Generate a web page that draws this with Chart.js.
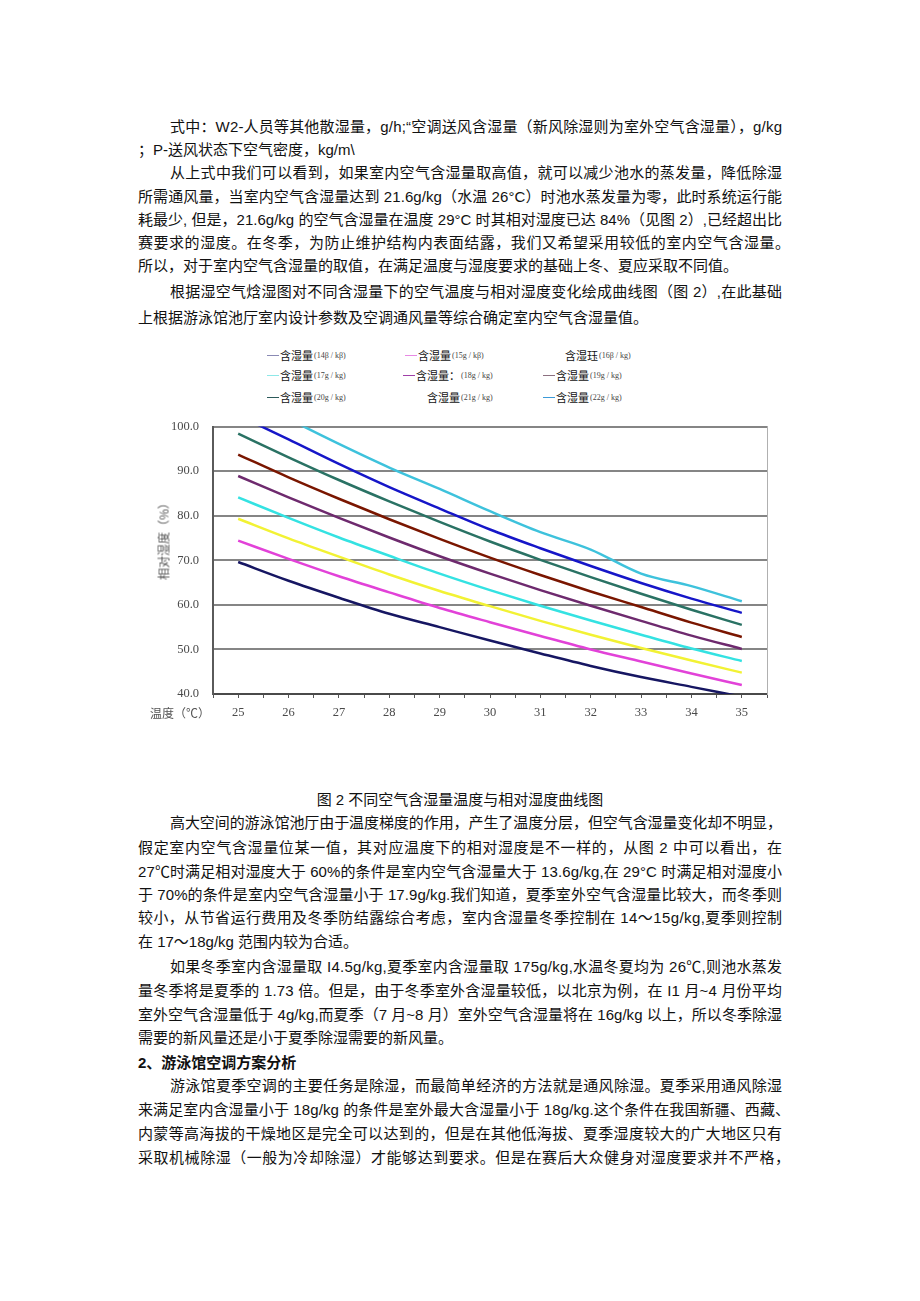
<!DOCTYPE html>
<html>
<head>
<meta charset="utf-8">
<script src="https://cdn.jsdelivr.net/npm/chart.js@4/dist/chart.umd.min.js"></script>
<style>
body{margin:0;background:#fff;}
#page{position:relative;width:920px;height:1301px;overflow:hidden;font-family:"Liberation Sans","Noto Sans CJK SC",sans-serif;font-size:15px;color:#111;}
.ln{position:absolute;left:138px;width:644px;line-height:20px;white-space:nowrap;}
.ln span.t{display:inline-block;}
.ind{left:170px;width:612px;}
.b{font-weight:bold;}
#chartBox{position:absolute;left:140px;top:405px;width:640px;height:320px;}
.lg{position:absolute;display:flex;align-items:center;height:14px;white-space:nowrap;color:#111;}
.lg .sw{display:inline-block;width:12px;height:0;border-top:1.5px solid;margin-right:1px;}
.lg .big{font-family:"Noto Sans CJK SC",sans-serif;font-size:11px;}
.lg .sm{font-family:"Liberation Serif","DejaVu Serif",serif;font-size:8px;color:#444;margin-left:1px;}
.ax{position:absolute;font-family:"Noto Sans CJK SC",sans-serif;font-size:12px;color:#555;white-space:nowrap;}
</style>
</head>
<body>
<div id="page">
  <div class="ln j ind" style="top:117px">式中：W2-人员等其他散湿量，g/h;“空调送风含湿量（新风除湿则为室外空气含湿量），g/kg</div>
  <div class="ln" style="top:140px">；P-送风状态下空气密度，kg/m\</div>
  <div class="ln j ind" style="top:163px">从上式中我们可以看到，如果室内空气含湿量取高值，就可以减少池水的蒸发量，降低除湿</div>
  <div class="ln j" style="top:187px">所需通风量，当室内空气含湿量达到 21.6g/kg（水温 26°C）时池水蒸发量为零，此时系统运行能</div>
  <div class="ln j" style="top:210px">耗最少, 但是，21.6g/kg 的空气含湿量在温度 29°C 时其相对湿度已达 84%（见图 2）,已经超出比</div>
  <div class="ln j" style="top:233px;width:652px">赛要求的湿度。在冬季，为防止维护结构内表面结露，我们又希望采用较低的室内空气含湿量。</div>
  <div class="ln" style="top:256px">所以，对于室内空气含湿量的取值，在满足温度与湿度要求的基础上冬、夏应采取不同值。</div>
  <div class="ln j ind" style="top:282px">根据湿空气焓湿图对不同含湿量下的空气温度与相对湿度变化绘成曲线图（图 2）,在此基础</div>
  <div class="ln" style="top:308px">上根据游泳馆池厅室内设计参数及空调通风量等综合确定室内空气含湿量值。</div>

  <div id="legend"></div>
  <div id="chartBox"><canvas id="c" width="640" height="320"></canvas></div>
  <div class="ax" style="left:150px;top:704px">温度（℃）</div>
  <div class="ax" style="left:120px;top:530px;width:86px;text-align:center;transform:rotate(-90deg);">相对湿度（%）</div>

  <div class="ln" style="top:790px;text-align:center">图 2 不同空气含湿量温度与相对湿度曲线图</div>
  <div class="ln j ind" style="top:813px">高大空间的游泳馆池厅由于温度梯度的作用，产生了温度分层，但空气含湿量变化却不明显，</div>
  <div class="ln j" style="top:838px">假定室内空气含湿量位某一值，其对应温度下的相对湿度是不一样的，从图 2 中可以看出，在</div>
  <div class="ln j" style="top:862px">27℃时满足相对湿度大于 60%的条件是室内空气含湿量大于 13.6g/kg,在 29°C 时满足相对湿度小</div>
  <div class="ln j" style="top:885px">于 70%的条件是室内空气含湿量小于 17.9g/kg.我们知道，夏季室外空气含湿量比较大，而冬季则</div>
  <div class="ln j" style="top:908px">较小，从节省运行费用及冬季防结露综合考虑，室内含湿量冬季控制在 14～15g/kg,夏季则控制</div>
  <div class="ln" style="top:932px">在 17～18g/kg 范围内较为合适。</div>
  <div class="ln j ind" style="top:957px">如果冬季室内含湿量取 I4.5g/kg,夏季室内含湿量取 175g/kg,水温冬夏均为 26℃,则池水蒸发</div>
  <div class="ln j" style="top:981px">量冬季将是夏季的 1.73 倍。但是，由于冬季室外含湿量较低，以北京为例，在 I1 月~4 月份平均</div>
  <div class="ln j" style="top:1005px">室外空气含湿量低于 4g/kg,而夏季（7 月~8 月）室外空气含湿量将在 16g/kg 以上，所以冬季除湿</div>
  <div class="ln" style="top:1028px">需要的新风量还是小于夏季除湿需要的新风量。</div>
  <div class="ln b" style="top:1053px">2、游泳馆空调方案分析</div>
  <div class="ln j ind" style="top:1076px">游泳馆夏季空调的主要任务是除湿，而最简单经济的方法就是通风除湿。夏季采用通风除湿</div>
  <div class="ln j" style="top:1100px;width:652px">来满足室内含湿量小于 18g/kg 的条件是室外最大含湿量小于 18g/kg.这个条件在我国新疆、西藏、</div>
  <div class="ln j" style="top:1124px">内蒙等高海拔的干燥地区是完全可以达到的，但是在其他低海拔、夏季湿度较大的广大地区只有</div>
  <div class="ln j" style="top:1148px;width:652px">采取机械除湿（一般为冷却除湿）才能够达到要求。但是在赛后大众健身对湿度要求并不严格，</div>
</div>

<script>
// data
var temps = [25, 26, 27, 28, 29, 30, 31, 32, 33, 34, 35];
var rh14 = [69.6, 65.4, 61.6, 58.0, 55.0, 52.0, 49.1, 46.3, 43.8, 41.6, 39.4];
var rh15 = [74.4, 70.3, 66.4, 62.8, 59.3, 56.1, 53.0, 50.0, 47.3, 44.6, 42.0];
var rh16 = [79.3, 74.9, 70.8, 66.8, 63.1, 59.7, 56.4, 53.3, 50.3, 47.5, 44.8];
var rh17 = [84.1, 79.5, 75.1, 71.0, 67.0, 63.3, 59.8, 56.5, 53.3, 50.2, 47.4];
var rh18 = [88.9, 84.1, 79.5, 75.1, 70.9, 67.0, 63.3, 59.8, 56.4, 53.1, 50.1];
var rh19 = [93.7, 88.6, 83.8, 79.2, 74.8, 70.6, 66.7, 63.0, 59.5, 56.0, 52.8];
var rh20 = [98.4, 93.1, 88.0, 83.2, 78.6, 74.2, 70.1, 66.2, 62.5, 58.9, 55.5];
var rh21 = [102.5, 97.1, 91.6, 86.4, 81.6, 76.9, 72.7, 68.7, 64.9, 61.4, 58.2];
var rh22 = [107.5, 101.7, 96.1, 90.8, 86.0, 81.0, 76.3, 72.4, 67.0, 64.2, 60.8];

var seriesNames = ['含湿量', '含湿量', '含湿珏', '含湿量', '含湿量：', '含湿量', '含湿量', '含湿量', '含湿量'];
var seriesUnits = ['(14β / kβ)', '(15g / kβ)', '(16β / kg)', '(17g / kg)', '(18g / kg)', '(19g / kg)', '(20g / kg)', '(21g / kg)', '(22g / kg)'];
var seriesValues = [rh14, rh15, rh16, rh17, rh18, rh19, rh20, rh21, rh22];
var lineColors = ['#161662', '#e242d8', '#f2f234', '#34e2e2', '#6e2a6e', '#7a1600', '#2a7264', '#1616c8', '#3ec2dc'];
var swatchColors = ['#8a8ab4', '#e88ae4', null, '#8ee8e8', '#a040a8', '#8c7080', '#2c5a5a', null, '#3c9ad8'];
var yTicks = [40, 50, 60, 70, 80, 90, 100];

// stretch/shrink justified lines to the column width
var lines = document.querySelectorAll('.ln.j');
for (var q=0;q<lines.length;q++){
  var el = lines[q];
  var txt = el.textContent;
  el.innerHTML = '<span class="t">' + txt + '</span>';
  var natural = el.firstChild.getBoundingClientRect().width;
  var target = el.getBoundingClientRect().width;
  var n = Array.from(txt).length - 1;
  el.style.letterSpacing = ((target - natural) / n) + 'px';
}

// legend (html)
var lgX = [267, 405, 565, 267, 403, 543, 267, 427, 543];
var lgY = [348, 348, 348, 368, 368, 368, 390, 390, 390];
var lg = document.getElementById('legend');
for (var i=0;i<seriesNames.length;i++){
  var d = document.createElement('div');
  d.className = 'lg';
  d.style.left = lgX[i] + 'px';
  d.style.top = lgY[i] + 'px';
  var h = '';
  if (swatchColors[i]) h += '<span class="sw" style="border-color:' + swatchColors[i] + '"></span>';
  h += '<span class="big">' + seriesNames[i] + '</span><span class="sm">' + seriesUnits[i] + '</span>';
  d.innerHTML = h;
  lg.appendChild(d);
}

var datasets = [];
for (var k=0;k<seriesValues.length;k++){
  datasets.push({
    label: seriesNames[k] + seriesUnits[k],
    data: temps.map(function(t, j){ return { x: t, y: seriesValues[k][j] }; }),
    borderColor: lineColors[k],
    borderWidth: 2.5,
    pointRadius: 0,
    fill: false,
    cubicInterpolationMode: 'monotone',
    clip: 0
  });
}

var tickFont = { family: '"Liberation Serif", "DejaVu Serif", serif', size: 12.5 };

new Chart(document.getElementById('c'), {
  type: 'line',
  data: { datasets: datasets },
  options: {
    responsive: false,
    animation: false,
    maintainAspectRatio: false,
    layout: { padding: { left: 0, right: 13, top: 10, bottom: 0 } },
    plugins: { legend: { display: false }, tooltip: { enabled: false } },
    scales: {
      x: {
        type: 'linear', min: 24.5, max: 35.5,
        afterFit: function(s){ s.height = 31; },
        ticks: {
          stepSize: 0.5, autoSkip: false, maxRotation: 0, padding: 7,
          color: '#4a4a4a', font: tickFont,
          callback: function(v){ return Number.isInteger(v) ? String(v) : ''; }
        },
        grid: { display: true, drawOnChartArea: false, drawTicks: true, tickLength: 4, color: '#555', lineWidth: 1 },
        border: { display: true, color: '#4a4a4a', width: 2 }
      },
      y: {
        min: 40, max: 100,
        afterFit: function(s){ s.width = 73; },
        afterBuildTicks: function(s){ s.ticks = yTicks.map(function(v){ return { value: v }; }); },
        ticks: {
          padding: 14, color: '#4a4a4a', font: tickFont,
          callback: function(v){ return v.toFixed(1); }
        },
        grid: { color: '#858585', lineWidth: 2, drawTicks: false },
        border: { display: true, color: '#5a5a5a', width: 2 }
      },
      y2: {
        position: 'right', min: 40, max: 100,
        afterFit: function(s){ s.width = 0; },
        ticks: { display: false },
        grid: { display: false, drawTicks: false },
        border: { display: true, color: '#b0b0b0', width: 1 }
      }
    }
  }
});
</script>
</body>
</html>
